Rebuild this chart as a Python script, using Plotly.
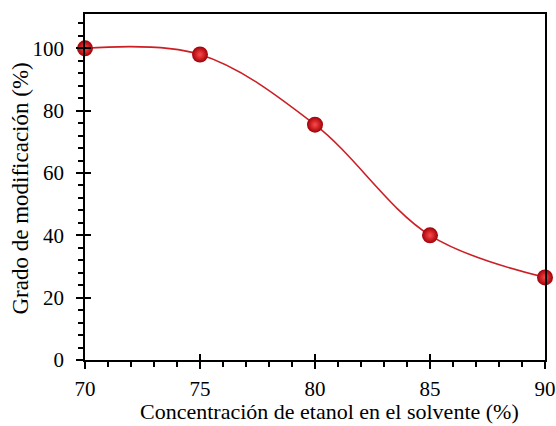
import plotly.graph_objects as go

concentracion = [70, 75, 80, 85, 90]
grado = [100, 98, 75.5, 40, 26.5]
x_ticks = [70, 75, 80, 85, 90]
y_ticks = [0, 20, 40, 60, 80, 100]

x_title = "Concentración de etanol en el solvente (%)"
y_title = "Grado de modificación (%)"

red_line = "#cc1f24"
font_family = "Liberation Serif"

fig = go.Figure()
fig.add_trace(go.Scatter(
    x=concentracion, y=grado, mode="lines",
    line=dict(shape="spline", smoothing=1.0, color=red_line, width=1.6),
    hoverinfo="skip", showlegend=False, cliponaxis=False,
))
fig.add_trace(go.Scatter(
    x=concentracion, y=grado, mode="markers",
    marker=dict(size=16, color="#a00008",
                gradient=dict(type="radial", color="#ff4a4a"),
                line=dict(width=0)),
    showlegend=False, cliponaxis=False,
))
# invisible trace carrying overlay axes that draw the inward half of major ticks
fig.add_trace(go.Scatter(x=concentracion, y=grado, xaxis="x2", yaxis="y2",
                         mode="markers", marker=dict(opacity=0),
                         hoverinfo="skip", showlegend=False))

axis_common = dict(showgrid=False, zeroline=False, linecolor="black", linewidth=1.5,
                   tickcolor="black", tickwidth=1.5, automargin=False,
                   tickfont=dict(family=font_family, size=21, color="black"))

fig.update_layout(
    width=556, height=426,
    margin=dict(l=85, r=11, t=14, b=66),
    paper_bgcolor="white", plot_bgcolor="white",
    font=dict(family=font_family, color="black"),
    xaxis=dict(range=[70, 90], tickvals=x_ticks, ticks="outside", ticklen=7,
               minor=dict(dtick=1, ticks="outside", ticklen=5, tickcolor="black", tickwidth=1.5),
               mirror=True, showline=True, ticklabelstandoff=2, **axis_common),
    yaxis=dict(range=[0, 111], tickvals=y_ticks, ticks="outside", ticklen=7,
               minor=dict(dtick=4, ticks="outside", ticklen=5, tickcolor="black", tickwidth=1.5),
               mirror=True, showline=True, ticklabelstandoff=8, **axis_common),
    xaxis2=dict(overlaying="x", matches="x", range=[70, 90], tickvals=x_ticks,
                ticks="inside", ticklen=6, tickcolor="black", tickwidth=1.5,
                showticklabels=False, showgrid=False, zeroline=False, showline=False,
                side="bottom", anchor="y2", automargin=False),
    yaxis2=dict(overlaying="y", matches="y", range=[0, 111], tickvals=y_ticks,
                ticks="inside", ticklen=6, tickcolor="black", tickwidth=1.5,
                showticklabels=False, showgrid=False, zeroline=False, showline=False,
                side="left", anchor="x2", automargin=False),
    annotations=[
        dict(text=x_title, xref="paper", yref="paper", x=0.531, y=-0.15,
             xanchor="center", yanchor="middle", showarrow=False,
             font=dict(family=font_family, size=22, color="black")),
        dict(text=y_title, xref="paper", yref="paper", x=-0.141, y=0.496,
             xanchor="center", yanchor="middle", showarrow=False, textangle=-90,
             font=dict(family=font_family, size=23, color="black")),
    ],
)

fig.write_html("out.html", config={"displayModeBar": False},
               post_script="document.body.style.margin='0';document.body.style.overflow='hidden';")
